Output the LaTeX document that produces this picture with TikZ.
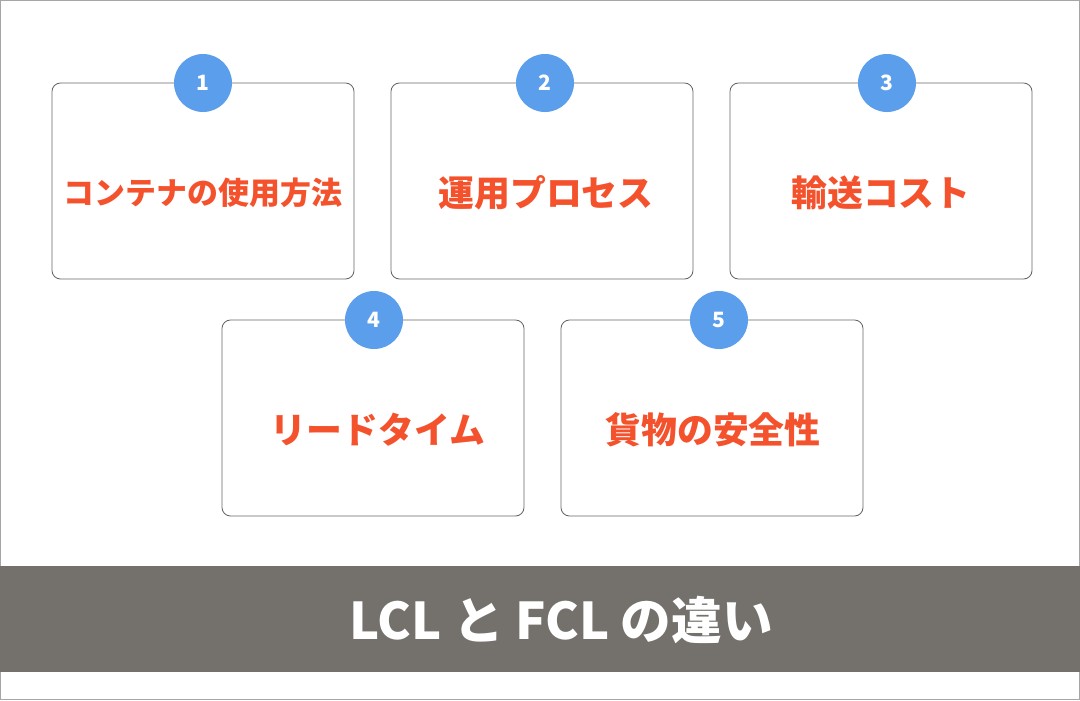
\documentclass[tikz,border=0pt]{standalone}
\usepackage{fontspec}
\setmainfont{Noto Sans CJK JP}
\definecolor{numblue}{HTML}{5B9EEB}
\definecolor{labelred}{HTML}{F4522D}
\definecolor{bannergray}{HTML}{74716C}
\tikzset{
  itembox/.style={draw=gray!80!black, line width=0.6pt, rounded corners=6pt},
  numdot/.style={circle, fill=numblue, minimum size=1.45cm, inner sep=0pt, text=white, font=\bfseries\fontsize{15}{15}\selectfont},
  itemlabel/.style={text=labelred, font=\bfseries\fontsize{#1}{#1}\selectfont},
}
\begin{document}
\begin{tikzpicture}[x=0.025cm,y=-0.025cm]
\useasboundingbox (0,0) rectangle (1080,700);
\draw[gray!70, line width=1pt] (0.5,0.5) rectangle (1079.5,699.5);

% boxes: x, y, number, circle shift, label x, font size, label
\foreach \x/\y/\n/\d/\lx/\s/\t in {52/83/1/0/0/22/コンテナの使用方法, 391/83/2/3/4/25.5/運用プロセス, 730/83/3/6/0/25.5/輸送コスト,
                         222/320/4/1/5/25.5/リードタイム, 561/320/5/7/1/25.5/貨物の安全性}{
  \draw[itembox] (\x,\y) rectangle (\x+302,\y+196);
  \node[itemlabel=\s] (lab\n) at (\x+151+\lx,\y+110) {\t};
  \node[numdot] (num\n) at (\x+151+\d,\y) {\n};
}

\fill[bannergray] (0,566) rectangle (1080,672);
\node[text=white, font=\bfseries\fontsize{36}{36}\selectfont] (title) at (561,620) {LCL と FCL の違い};
\end{tikzpicture}
\end{document}
